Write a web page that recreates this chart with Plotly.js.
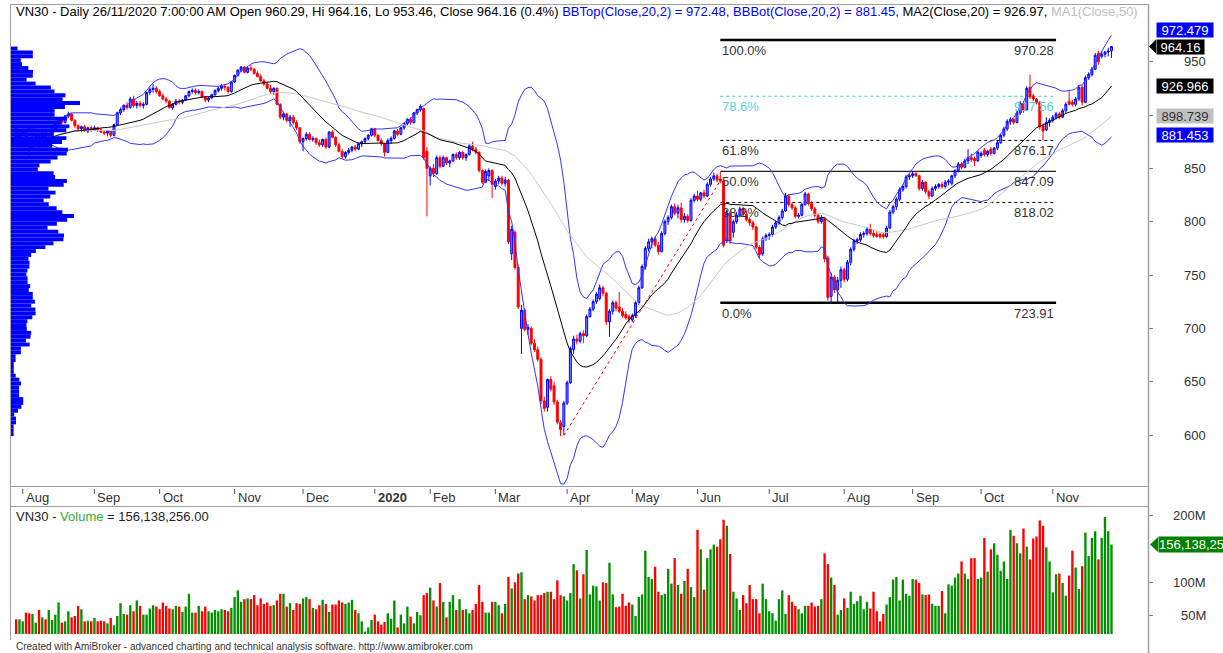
<!DOCTYPE html>
<html><head><meta charset="utf-8">
<script src="https://cdn.plot.ly/plotly-3.0.1.min.js"></script>
<style>html,body{margin:0;padding:0;background:#fff;overflow:hidden}#chart{width:1223px;height:653px}</style>
</head><body><div id="chart"></div>
<script>
// ---------------- DATA ----------------
const startDate = '2019-07-30';
const endDate = '2020-11-26';
const holidays = ['2019-09-02','2020-01-01','2020-01-23','2020-01-24','2020-01-27','2020-01-28','2020-01-29','2020-04-02','2020-04-30','2020-05-01','2020-09-02'];

const open = [
887,878,
882,884,876,871,878,880,879,882,876,879,886,892,895,893,899,901,895,890,887,889,885,888,
886,888,886,884,883,885,881,891,902,905,909,907,915,909,911,909,910,921,924,925,
922,918,915,913,907,910,913,912,914,918,922,923,921,922,917,914,916,919,923,925,927,926,922,
931,937,942,945,940,944,943,939,936,932,929,925,922,925,910,898,901,895,898,893,888,
875,878,882,877,878,874,872,877,870,884,879,872,866,861,865,867,870,868,873,875,878,881,
887,881,876,873,865,876,878,885,882,888,892,896,893,902,905,906,866,
843,850,845,860,852,860,855,857,863,860,865,860,863,871,868,865,848,837,843,848,
833,838,841,836,839,770,790,757,700,717,699,700,686,680,671,632,626,652,646,631,612,608,
630,649,680,690,688,695,693,711,718,725,728,738,733,706,716,724,720,716,713,711,
708,712,724,738,758,775,781,784,778,772,789,800,804,814,808,813,802,805,801,820,
824,821,827,824,835,840,843,840,838,782,808,790,800,806,812,807,802,799,795,776,770,784,
787,788,795,799,804,810,824,816,813,805,806,816,826,817,812,806,800,803,766,730,748,736,745,
755,746,762,774,782,783,788,789,793,789,788,788,788,786,794,809,814,821,830,833,842,
843,845,843,831,837,828,824,831,833,835,833,837,836,843,848,854,851,857,860,859,857,
862,867,863,868,864,869,874,881,887,894,896,893,902,911,905,926,918,915,912,890,886,893,
895,898,901,898,904,913,912,910,915,926,912,935,938,943,958,955,957,959,960.29];

const high = [
889,884,
886,885,878,880,882,881,884,884,881,887,893,897,897,900,903,902,896,891,890,891,889,890,
890,889,888,886,886,886,892,903,907,910,912,917,918,913,913,912,922,926,929,927,
924,920,917,914,911,915,915,915,919,923,925,925,924,923,918,917,920,924,927,929,929,927,932,
938,943,946,946,945,947,944,941,938,934,931,928,926,926,911,903,902,900,900,895,889,
879,884,884,880,879,877,878,879,885,886,880,874,868,866,869,871,872,874,876,879,882,888,
888,882,878,874,878,880,886,887,889,893,897,898,903,906,910,907,870,
852,854,862,862,862,861,858,864,865,866,866,864,873,875,870,866,849,849,850,849,
840,843,843,842,840,796,792,760,722,719,704,702,690,683,673,636,653,655,650,633,614,632,
651,683,693,694,697,698,713,720,727,734,741,740,734,718,726,726,734,719,716,713,
714,726,740,760,777,784,786,786,781,791,802,806,816,817,816,818,808,807,822,826,
829,828,830,837,842,846,845,847,839,811,810,802,809,814,814,810,804,801,796,778,786,789,
790,797,801,806,812,827,826,818,815,808,818,828,827,819,814,808,806,804,768,752,750,748,758,
757,764,776,784,785,790,791,795,798,792,791,790,790,796,811,816,823,832,835,844,845,
847,847,844,839,838,830,833,835,836,837,839,840,844,849,856,856,859,868,864,861,867,
866,869,867,870,870,876,882,889,896,898,897,904,913,913,927,938,920,916,913,892,898,897,
900,903,903,906,912,923,914,917,928,928,937,940,945,958,960,960,960,963,964.16];

const low = [
876,876,
879,874,859,868,875,868,877,874,874,878,885,890,891,892,897,894,888,885,884,884,883,884,
885,884,883,881,880,879,880,890,900,903,905,906,907,906,907,906,909,919,921,920,
917,914,911,906,905,909,910,910,913,917,920,919,919,916,912,912,915,918,921,923,923,920,921,
930,936,940,939,939,941,938,935,931,927,924,920,919,909,896,895,893,889,891,886,873,
866,876,876,875,872,870,870,868,869,878,870,865,859,859,863,865,866,867,870,873,876,880,
879,875,871,861,864,873,877,880,881,886,890,891,892,900,903,858,805,
834,842,844,850,851,853,851,856,858,858,858,857,862,866,863,846,835,836,838,822,
830,835,834,833,779,764,755,718,676,697,694,684,678,669,629,622,622,641,628,610,599,600,
628,648,676,685,686,686,692,710,716,723,726,730,703,692,713,716,714,710,708,705,
706,710,722,737,755,772,775,776,769,771,787,797,802,806,803,799,799,799,800,818,
819,819,822,823,833,838,837,836,776,780,779,785,798,804,805,800,796,792,774,766,768,782,
783,786,793,797,802,809,814,811,803,803,805,815,815,810,804,798,798,762,726,724,733,723.91,738,
743,744,759,772,779,781,785,787,787,785,785,784,784,785,793,807,811,819,828,831,839,
841,842,829,829,826,821,823,829,831,831,831,834,834,841,846,849,850,854,856,852,856,
860,861,861,862,863,867,873,879,885,891,891,892,900,902,904,915,913,910,886,876,885,889,
893,896,896,897,902,909,908,908,913,909,911,933,936,942,947,953,954,955,953.46];

const close = [
878,882,
884,876,871,878,880,879,882,876,879,886,892,895,893,899,901,895,890,887,889,885,888,886,
888,886,884,883,885,881,891,902,905,909,907,915,909,911,909,910,921,924,925,922,
918,915,913,907,910,913,912,914,918,922,923,921,922,917,914,916,919,923,925,927,926,922,931,
937,942,945,940,944,943,939,936,932,929,925,922,925,910,898,901,895,898,893,888,875,
878,882,877,878,874,872,877,870,884,879,872,866,861,865,867,870,868,873,875,878,881,887,
881,876,873,865,876,878,885,882,888,892,896,893,902,905,908,860,850,
850,845,860,852,860,855,857,863,860,865,860,863,871,868,865,848,837,847,848,835,
838,841,836,839,781,793,757,720,717,699,701,686,680,671,632,625,652,643,631,612,605,630,
649,681,690,688,695,693,711,718,725,732,738,733,706,716,724,719,716,712,710,708,
712,724,738,758,775,781,784,778,772,789,800,804,814,808,813,802,805,801,820,824,
821,827,824,835,840,843,839,838,778,808,782,800,806,812,807,802,799,795,776,769,784,787,
788,795,799,804,810,824,816,813,805,806,816,826,817,812,806,800,803,765,729,748,736,745,755,
746,762,774,782,783,788,789,793,789,787,786,786,786,794,809,814,821,830,833,842,843,
845,843,831,837,828,824,831,833,835,833,837,838,843,848,854,851,857,860,858,857,865,
864,863,866,864,869,874,881,887,894,896,893,902,911,904,925,917,915,912,889,885,893,895,
898,901,898,904,910,910,910,915,926,912,935,938,943,956,950,957,959,960,964.16];

// volume in millions of shares
const volumeM = [
45,45,42,55,54,53,40,59,48,45, 59,44,52,70,40,42,57,48,50,65,
60,42,43,42,47,42,43,42,39,47, 36,50,69,53,52,66,57,73,65,52,
52,61,66,64,60,70,65,61,60,65, 64,56,64,83,55,55,65,57,64,57,
55,59,57,60,59,57,62,78,88,71, 75,76,75,81,66,76,68,70,65,66,
73,83,83,64,69,59,69,68,76,78, 75,62,60,66,74,68,56,67,67,73,
70,68,70,74,59,54,42,27,33,44, 52,42,37,41,54,46,73,33,52,39,
64,49,39,56,51,81,84,92,73,64, 99,71,48,71,81,59,75,59,60,54,
59,68,96,71,55,55,71,71,66,54, 68,108,91,100,113,115,75,81,79,73,
81,81,84,86,86,75,103,81,79,73, 84,127,118,76,112,148,82,95,94,73,
100,99,129,82,63,64,83,65,70,67, 50,78,82,147,108,105,123,86,81,83,
120,98,136,96,83,102,120,93,78,178, 149,89,136,149,156,153,164,193,184,142,
86,76,59,81,69,96,75,75,54,98, 75,57,54,43,75,88,53,81,71,65,
60,54,65,65,70,64,65,75,143,127, 107,96,52,59,76,62,86,68,72,80,
60,71,61,86,57,42,53,67,78,104, 108,73,104,83,80,105,104,99,82,81,
82,68,65,65,87,54,97,95,107,113, 131,113,105,136,136,105,107,166,116,149,
158,141,117,131,105,178,169,158,143,180, 153,134,165,168,192,184,152,131,85,112,
113,99,80,110,147,122,90,124,174,139, 166,176,134,166,197,176,156.138256];

const monthLabels = ['Aug','Sep','Oct','Nov','Dec','2020','Feb','Mar','Apr','May','Jun','Jul','Aug','Sep','Oct','Nov'];
const priceTicks = [600,650,700,750,800,850,900,950];
const priceTickLabels = ['600','650','700','750','800','850','','950'];
const volTicks = [50,100,200];
const volTickLabels = ['50M','100M','200M'];

const fibDates = ['2020-06-10','2020-11-03'];
const fibPrices = [723.91, 970.28];
const fibRatios = [0, 0.382, 0.5, 0.618, 0.786, 1];
const trendDates = ['2020-03-31','2020-06-10'];
const trendPrices = [599.5, 838.5];

const readBBTop = 972.479, readBBBot = 881.453, readMA20 = 926.966, readMA50 = 898.739;
const readVolume = 156138256;

// ---------------- BUILD ----------------
const W = 1223, H = 653;
const px = x => x / W, py = y => 1 - y / H;
const FONT = 'Liberation Sans, Arial, Helvetica, sans-serif';

const dates = (() => {
  const out = [], hol = new Set(holidays);
  const d = new Date(startDate + 'T00:00:00Z'), end = new Date(endDate + 'T00:00:00Z');
  while (d <= end) {
    const wd = d.getUTCDay(), s = d.toISOString().slice(0, 10);
    if (wd !== 0 && wd !== 6 && !hol.has(s)) out.push(s);
    d.setUTCDate(d.getUTCDate() + 1);
  }
  return out;
})();
const n = close.length;
const idx = close.map((_, i) => i);
const dIdx = s => { const k = dates.indexOf(s); return k < 0 ? 0 : k; };

function sma(a, p) {
  return a.map((_, i) => { const s = Math.max(0, i - p + 1); let t = 0; for (let k = s; k <= i; k++) t += a[k]; return t / (i - s + 1); });
}
function sdev(a, p) {
  const m = sma(a, p);
  return a.map((_, i) => { const s = Math.max(0, i - p + 1); let t = 0; for (let k = s; k <= i; k++) t += (a[k] - m[i]) ** 2; return Math.sqrt(t / (i - s + 1)); });
}
const ma20 = sma(close, 20), ma50 = sma(close, 50), sd20 = sdev(close, 20);
const bbTop = ma20.map((m, i) => m + 2 * sd20[i]);
const bbBot = ma20.map((m, i) => m - 2 * sd20[i]);

// volume-at-price profile: each bar adds its volume to every price bin its range touches
const NB = 100;
const pMin = Math.min(...low), pMax = Math.max(...high), bs = (pMax - pMin) / NB;
const prof = new Array(NB).fill(0);
for (let i = 0; i < n; i++) {
  for (let b = 0; b < NB; b++) {
    const b0 = pMin + b * bs, b1 = b0 + bs;
    if (Math.min(high[i], b1) - Math.max(low[i], b0) >= 0) prof[b] += volumeM[i];
  }
}
const profY = prof.map((_, b) => pMin + (b + 0.5) * bs);
const profMax = Math.max(...prof);

const volColors = idx.map(i => close[i] >= open[i] ? '#009000' : '#ff0000');

const traces = [
  {type:'bar', orientation:'h', x:prof, y:profY, width:bs, xaxis:'x2', yaxis:'y', marker:{color:'#0000ff', line:{width:0}}, hoverinfo:'skip'},
  {type:'scatter', mode:'lines', x:idx, y:bbTop, line:{color:'#3333ff', width:1}, hoverinfo:'skip'},
  {type:'scatter', mode:'lines', x:idx, y:bbBot, line:{color:'#3333ff', width:1}, hoverinfo:'skip'},
  {type:'scatter', mode:'lines', x:idx, y:ma50, line:{color:'#c8c8c8', width:1}, hoverinfo:'skip'},
  {type:'scatter', mode:'lines', x:idx, y:ma20, line:{color:'#000000', width:1}, hoverinfo:'skip'},
  {type:'candlestick', x:idx, open:open, high:high, low:low, close:close, whiskerwidth:0,
   increasing:{line:{color:'#0000ff', width:1}, fillcolor:'#8080ff'},
   decreasing:{line:{color:'#ff0000', width:1}, fillcolor:'#ff0000'}, hoverinfo:'skip'},
  {type:'bar', x:idx, y:volumeM, yaxis:'y3', width:0.72, marker:{color:volColors, line:{width:0}}, hoverinfo:'skip'}
];

const shapes = [];
const ann = [];
const gray = '#a0a0a0';
function pline(x0, y0, x1, y1, color, w) {
  shapes.push({type:'line', xref:'paper', yref:'paper', x0:px(x0), y0:py(y0), x1:px(x1), y1:py(y1), line:{color:color || gray, width:w || 1}, layer:'above'});
}
// panel frames
pline(10, 4.5, 1148, 4.5);
pline(10.5, 4, 10.5, 640);
pline(1148.5, 4, 1148.5, 653, '#a0a0a0', 1.5);
pline(10, 486.5, 1148, 486.5);
pline(10, 506.5, 1148, 506.5);

// month labels on the date strip
let mk = 0;
for (let i = 1; i < dates.length && mk < monthLabels.length; i++) {
  if (dates[i].slice(0, 7) !== dates[i - 1].slice(0, 7)) {
    const lab = monthLabels[mk++];
    shapes.push({type:'line', xref:'x', yref:'paper', x0:i, x1:i, y0:py(489), y1:py(494), line:{color:'#555', width:1}});
    ann.push({xref:'x', yref:'paper', x:i, y:py(497), xanchor:'left', yanchor:'middle', xshift:1, showarrow:false,
      text: lab === '2020' ? '<b>2020</b>' : lab, font:{family:FONT, size:13, color:'#333'}});
  }
}

// price axis labels (right aligned)
priceTicks.forEach((t, k) => { if (priceTickLabels[k]) ann.push({xref:'paper', yref:'y', x:px(1208), y:t, xanchor:'right', yanchor:'middle', showarrow:false, text:priceTickLabels[k], font:{family:FONT, size:13, color:'#333'}}); });
volTicks.forEach((t, k) => ann.push({xref:'paper', yref:'y3', x:px(1208), y:t, xanchor:'right', yanchor:'middle', showarrow:false, text:volTickLabels[k], font:{family:FONT, size:13, color:'#333'}}));

// Fibonacci levels
const fx0 = dIdx(fibDates[0]), fx1 = dIdx(fibDates[1]);
const fmt2 = v => (Math.round(v * 100 - 1e-6) / 100).toFixed(2);
fibRatios.forEach(r => {
  const v = fibPrices[0] + r * (fibPrices[1] - fibPrices[0]);
  let st;
  if (r === 0 || r === 1) st = {color:'#000', width:2.5, dash:'solid'};
  else if (r === 0.5) st = {color:'#222', width:1.2, dash:'solid'};
  else if (r === 0.786) st = {color:'#40d0d0', width:1, dash:'3px,3px'};
  else st = {color:'#000', width:1, dash:'3px,3px'};
  shapes.push({type:'line', xref:'x', yref:'y', x0:fx0, x1:fx1, y0:v, y1:v, line:st, layer:'below'});
  const col = r === 0.786 ? '#55d5d5' : '#333';
  ann.push({xref:'x', yref:'y', x:fx0, y:v, xanchor:'left', yanchor:'top', yshift:-1, showarrow:false, text:(r * 100).toFixed(1) + '%', font:{family:FONT, size:13, color:col}});
  ann.push({xref:'x', yref:'y', x:fx1, y:v, xanchor:'right', yanchor:'top', yshift:-1, showarrow:false, text:fmt2(v), font:{family:FONT, size:13, color:col}});
});

// red dashed trend line
shapes.push({type:'line', xref:'x', yref:'y', x0:dIdx(trendDates[0]), y0:trendPrices[0], x1:dIdx(trendDates[1]), y1:trendPrices[1], line:{color:'#ff0000', width:1, dash:'3px,3px'}, layer:'above'});

// right-hand value boxes
function box(y, yref, text, bg, fg, w, yshift) {
  ann.push({xref:'paper', yref:yref, x:px(1156), y:y, xanchor:'left', yanchor:'middle', yshift:yshift || 0, showarrow:false, text:text,
    bgcolor:bg, borderpad:0, width:w, height:14, align:'center', font:{family:FONT, size:13, color:fg}});
}
box(readBBTop, 'y', readBBTop.toFixed(3), '#0000ff', '#fff', 56, 8);
box(close[n - 1], 'y', close[n - 1].toFixed(2), '#000', '#fff', 47, 0);
box(readMA20, 'y', readMA20.toFixed(3), '#000', '#fff', 56, 0);
box(readMA50, 'y', readMA50.toFixed(3), '#c0c0c0', '#333', 56, 0);
box(readBBBot, 'y', readBBBot.toFixed(3), '#0000ff', '#fff', 56, 0);
const dP = 7 / 1.0667;
shapes.push({type:'path', xref:'paper', yref:'y', path:`M ${px(1149)},${close[n-1]} L ${px(1156)},${close[n-1] + dP} L ${px(1156)},${close[n-1] - dP} Z`, fillcolor:'#000', line:{width:0}, layer:'above'});
const volLast = readVolume / 1e6;
ann.push({xref:'paper', yref:'y3', x:px(1158), y:volLast, xanchor:'left', yanchor:'middle', showarrow:false,
  text:readVolume.toLocaleString('en-US'), bgcolor:'#008000', borderpad:0, width:80, height:15, align:'left', font:{family:FONT, size:13, color:'#fff'}});
const dV = 7.5 / 0.673;
shapes.push({type:'path', xref:'paper', yref:'y3', path:`M ${px(1150)},${volLast} L ${px(1158)},${volLast + dV} L ${px(1158)},${volLast - dV} Z`, fillcolor:'#008000', line:{width:0}, layer:'above'});

// header texts
const pct = ((close[n - 1] / close[n - 2] - 1) * 100).toFixed(1);
const header = `VN30 - Daily 26/11/2020 7:00:00 AM Open ${open[n-1].toFixed(2)}, Hi ${high[n-1].toFixed(2)}, Lo ${low[n-1].toFixed(2)}, Close ${close[n-1].toFixed(2)} (${pct}%) ` +
  `<span style="color:#0000ff">BBTop(Close,20,2) = ${readBBTop.toFixed(2)}, BBBot(Close,20,2) = ${readBBBot.toFixed(2)},</span> ` +
  `MA2(Close,20) = ${readMA20.toFixed(2)}, <span style="color:#c0c0c0">MA1(Close,50)</span>`;
ann.push({xref:'paper', yref:'paper', x:px(14), y:py(12), xanchor:'left', yanchor:'middle', showarrow:false, text:header, font:{family:FONT, size:13, color:'#000'}});
ann.push({xref:'paper', yref:'paper', x:px(14), y:py(516.5), xanchor:'left', yanchor:'middle', showarrow:false,
  text:`VN30 - <span style="color:#33aa33">Volume</span> = ${readVolume.toLocaleString('en-US')}.00`, font:{family:FONT, size:13, color:'#222'}});
ann.push({xref:'paper', yref:'paper', x:px(14), y:py(646.5), xanchor:'left', yanchor:'middle', showarrow:false,
  text:'Created with AmiBroker - advanced charting and technical analysis software. http://www.amibroker.com', font:{family:FONT, size:10, color:'#333'}});

const layout = {
  width:W, height:H, autosize:false, margin:{l:0, r:0, t:0, b:0, pad:0},
  paper_bgcolor:'#ffffff', plot_bgcolor:'rgba(0,0,0,0)', showlegend:false, hovermode:false, boxgap:0.15,
  font:{family:FONT, size:13, color:'#000'},
  xaxis:{domain:[px(10), px(1148)], range:[-1.9, 347.2], visible:false, rangeslider:{visible:false}, fixedrange:true},
  xaxis2:{overlaying:'x', anchor:'y', range:[0, profMax * 1138 / 70], visible:false, fixedrange:true},
  yaxis:{domain:[py(486), py(4)], range:[552.19, 1004.06], side:'right', anchor:'x', showgrid:false, zeroline:false, showline:false,
    ticks:'outside', ticklen:4, tickwidth:1, tickcolor:'#808080', tickmode:'array', tickvals:priceTicks, showticklabels:false, fixedrange:true},
  yaxis3:{domain:[py(634), py(507)], range:[23.2, 211.9], side:'right', anchor:'x', showgrid:false, zeroline:false, showline:false,
    ticks:'outside', ticklen:4, tickwidth:1, tickcolor:'#808080', tickmode:'array', tickvals:volTicks, showticklabels:false, fixedrange:true},
  shapes:shapes, annotations:ann
};
Plotly.newPlot('chart', traces, layout, {staticPlot:true, displayModeBar:false});
</script>
</body></html>
